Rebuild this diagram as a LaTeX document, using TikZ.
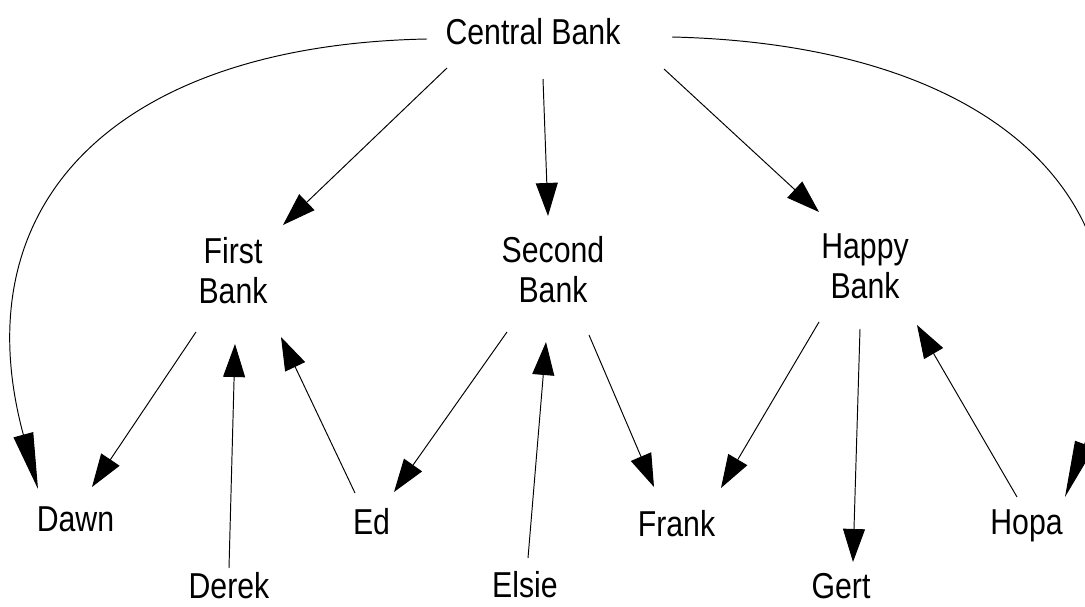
\documentclass[tikz,border=0pt]{standalone}
\usepackage{fontspec}
\setmainfont{Liberation Sans}[FakeStretch=0.84]
\usetikzlibrary{arrows.meta}

\begin{document}
\begin{tikzpicture}[x=0.02cm, y=-0.02cm,
    lbl/.style={anchor=base, align=center, inner sep=0pt, font=\fontsize{20.5pt}{23.3pt}\selectfont},
    arr/.style={line width=0.55pt, -{Triangle[length=18.8pt, width=12.5pt]}},
    longarr/.style={line width=0.55pt, -{Triangle[length=32pt, width=11.5pt]}}]
    \useasboundingbox (0,0) rectangle (1085,607);

    % banks
    \node[lbl] (cb) at (533,45) {Central Bank};
    \node[lbl] (first) at (233,304) {First\\Bank};
    \node[lbl] (second) at (553,303) {Second\\Bank};
    \node[lbl] (happy) at (865,299) {Happy\\Bank};

    % people
    \node[lbl] (dawn) at (75.5,532) {Dawn};
    \node[lbl] (derek) at (229,598) {Derek};
    \node[lbl] (ed) at (371.5,535) {Ed};
    \node[lbl] (elsie) at (525,597) {Elsie};
    \node[lbl] (frank) at (676.5,537) {Frank};
    \node[lbl] (gert) at (841,598) {Gert};
    \node[lbl] (hopa) at (1026.5,535) {Hopa};

    % central bank to the banks
    \draw[arr] ([shift={(-86,23)}]cb.base) -- ([shift={(50,-79)}]first.base);
    \draw[arr] ([shift={(10,34)}]cb.base) -- ([shift={(-5,-87)}]second.base);
    \draw[arr] ([shift={(131,24)}]cb.base) -- ([shift={(-46,-87)}]happy.base);

    % central bank straight to people
    \draw[longarr] ([shift={(-106,-6)}]cb.base) .. controls +(-307,6) and +(-78,-289) .. ([shift={(-37.5,-43)}]dawn.base);
    \draw[longarr] ([shift={(139,-8)}]cb.base) .. controls +(338,8) and +(105,-282) .. ([shift={(38.5,-38)}]hopa.base);

    % first bank
    \draw[arr] ([shift={(-37,28)}]first.base) -- ([shift={(16.5,-45)}]dawn.base);
    \draw[arr] ([shift={(0,-30)}]derek.base) -- ([shift={(2,40)}]first.base);
    \draw[arr] ([shift={(-16.5,-42)}]ed.base) -- ([shift={(48,33)}]first.base);

    % second bank
    \draw[arr] ([shift={(-46,29)}]second.base) -- ([shift={(22.5,-43)}]ed.base);
    \draw[arr] ([shift={(3,-39)}]elsie.base) -- ([shift={(-7,39)}]second.base);
    \draw[arr] ([shift={(36,32)}]second.base) -- ([shift={(-22.5,-50)}]frank.base);

    % happy bank
    \draw[arr] ([shift={(-46,23)}]happy.base) -- ([shift={(44.5,-49)}]frank.base);
    \draw[arr] ([shift={(-5,30)}]happy.base) -- ([shift={(12,-36)}]gert.base);
    \draw[arr] ([shift={(-9.5,-38)}]hopa.base) -- ([shift={(52,26)}]happy.base);
\end{tikzpicture}
\end{document}
